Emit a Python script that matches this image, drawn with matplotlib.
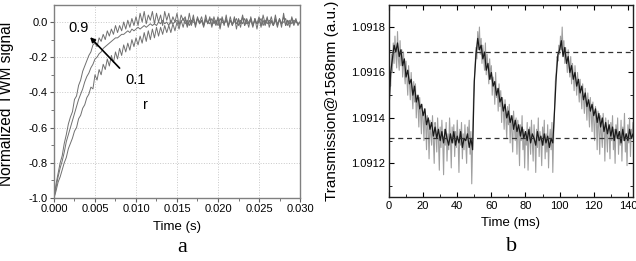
import numpy as np
import matplotlib
matplotlib.use("Agg")
import matplotlib.pyplot as plt
from matplotlib.ticker import MultipleLocator, FormatStrFormatter

plt.rcParams['font.family'] = ['Liberation Sans', 'DejaVu Sans']

# ---------------- Panel a data (time step 0.00025 s, values in hundredths) ----------------
a_time_step = 0.00025
a_r09 = [-100, -92, -86, -80, -76, -69, -64, -58, -54, -51, -44, -42, -36, -33, -28, -25,
         -22, -19, -17, -13, -12, -14, -9, -11, -7, -10, -5, -8, -4, -7, -2, -6,
         -2, -5, 0, -4, 1, -3, 2, -2, 3, -2, 5, 0, 6, -1, 4, 1,
         6, -1, 5, 0, 4, -2, 6, 1, 5, -1, 3, 0, 5, -2, 4, 1,
         3, -2, 5, -1, 4, -3, 2, 0, 3, -2, 4, -1, 2, -3, 3, -1,
         3, -4, 2, -2, 4, -3, 1, -2, 3, -4, 2, -1, 4, -2, 1, -3,
         3, -2, 2, -4, 2, -3, 4, -1, 3, -3, 1, -2, 4, -2, 2, -3,
         5, -2, 1, -3, 3, -1, 2, -2, 0]
a_mid = [-100, -94, -88, -83, -79, -74, -68, -64, -60, -56, -52, -48, -44, -41, -38, -34,
         -31, -29, -26, -24, -21, -20, -18, -17, -15, -14, -13, -12, -11, -10, -9, -9,
         -8, -7, -7, -6, -5, -6, -4, -5, -4, -3, -4, -3, -2, -3, -2, -1,
         -2, -1, -2, 0, -1, 1, -1, 0, -2, 1, -1, 0, 1, -1, 0, 2,
         -1, 1, -2, 1, 0, -1, 2, -1, 1, -2, 1, 0, -1, 2, -1, 1,
         -2, 2, 0, -1, 2, -2, 1, -1, 0, 2, -2, 1, -1, 2, -1, 0,
         2, -2, 1, -1, 0, 2, -2, 1, -1, 1, 0, -2, 2, -1, 1, -1,
         0, 2, -2, 1, -1, 1, 0, -1, 0]
a_r01 = [-100, -96, -91, -88, -84, -80, -77, -72, -69, -66, -62, -60, -55, -53, -49, -47,
         -43, -41, -37, -38, -30, -33, -27, -30, -24, -27, -21, -25, -19, -23, -17, -21,
         -15, -19, -13, -17, -12, -16, -10, -14, -9, -13, -8, -12, -6, -11, -5, -10,
         -4, -9, -3, -8, -3, -7, -2, -6, -2, -6, -1, -5, 0, -4, 1, -3,
         2, -3, 1, -2, 2, -2, 3, -1, 1, -3, 2, -1, 3, -2, 1, -2,
         2, -3, 3, -1, 1, -2, 3, -2, 2, -1, 1, -3, 3, -2, 2, -1,
         1, -3, 2, -1, 3, -2, 1, -2, 2, -1, 3, -2, 1, -3, 2, -1,
         3, -2, 1, -1, 2, -2, 1, -1, 0]
a_xticks = [0.000, 0.005, 0.010, 0.015, 0.020, 0.025, 0.030]
a_yticks = [-1.0, -0.8, -0.6, -0.4, -0.2, 0.0]

# ---------------- Panel b data (offsets above 1.0910 in units of 1e-5) ----------------
b_base = 1.0910
b_unit = 1e-5
b_gray_step = 0.5   # ms
b_gray = [40, 55, 54, 68, 60, 73, 64, 76, 68, 62,
          78, 66, 61, 74, 63, 70, 58, 69, 60, 55,
          65, 57, 50, 63, 55, 48, 60, 51, 44, 56,
          47, 55, 40, 50, 45, 36, 49, 42, 33, 46,
          40, 30, 44, 38, 26, 41, 35, 22, 39, 33,
          28, 41, 31, 20, 38, 34, 25, 40, 30, 17,
          36, 27, 39, 30, 15, 35, 28, 38, 21, 33,
          26, 40, 31, 18, 36, 29, 37, 23, 34, 27,
          39, 30, 16, 35, 28, 38, 22, 33, 26, 37,
          29, 20, 36, 31, 39, 24, 34, 11, 28, 48,
          57, 64, 71, 66, 78, 70, 80, 68, 75, 64,
          72, 66, 61, 73, 59, 68, 62, 55, 66, 57,
          63, 50, 58, 55, 46, 60, 49, 53, 43, 55,
          45, 52, 38, 49, 44, 35, 48, 40, 31, 45,
          37, 46, 29, 41, 34, 25, 43, 36, 30, 40,
          24, 39, 33, 19, 37, 30, 41, 26, 35, 18,
          34, 28, 38, 17, 32, 36, 24, 39, 29, 21,
          37, 31, 16, 35, 27, 40, 23, 34, 30, 19,
          36, 28, 39, 22, 33, 25, 37, 18, 31, 35,
          26, 38, 16, 32, 44, 56, 60, 67, 65, 72,
          68, 76, 70, 80, 69, 74, 64, 71, 66, 60,
          70, 62, 58, 67, 55, 64, 59, 52, 63, 56,
          50, 60, 53, 47, 57, 50, 44, 55, 48, 42,
          53, 46, 39, 51, 43, 36, 49, 41, 34, 47,
          38, 30, 45, 40, 26, 43, 35, 24, 41, 33,
          27, 42, 36, 21, 40, 32, 25, 39, 34, 22,
          38, 30, 41, 26, 35, 20, 37, 31, 40, 24,
          34, 28, 39, 21, 36, 30, 42, 25, 33, 19,
          37, 29, 40, 23, 35, 31, 38, 26, 41, 28,
          32]
b_black_step = 1.0  # ms
b_black = [44, 60, 66, 72, 69, 73, 67, 70, 63, 66,
           58, 61, 55, 57, 50, 54, 47, 50, 44, 46,
           41, 44, 37, 40, 35, 38, 32, 36, 31, 35,
           30, 34, 29, 35, 31, 28, 33, 29, 34, 28,
           32, 29, 34, 27, 31, 30, 33, 27, 31, 26,
           56, 68, 75, 70, 72, 66, 69, 61, 64, 57,
           60, 54, 56, 50, 53, 47, 49, 43, 46, 40,
           43, 38, 41, 35, 39, 34, 37, 32, 36, 31,
           34, 30, 35, 29, 33, 31, 28, 34, 30, 32,
           28, 33, 29, 32, 27, 31, 29, 43, 58, 68,
           70, 74, 67, 71, 64, 67, 60, 63, 57, 60,
           54, 57, 51, 54, 48, 51, 45, 48, 43, 46,
           41, 44, 38, 42, 36, 40, 34, 38, 33, 37,
           32, 36, 30, 35, 31, 34, 29, 35, 30, 33,
           30, 35, 31, 33, 29, 32]
b_dashed_levels = [1.09169, 1.091312]
b_xticks = [0, 20, 40, 60, 80, 100, 120, 140]
b_yticks = [1.0912, 1.0914, 1.0916, 1.0918]

fig = plt.figure(figsize=(6.36, 2.61), dpi=100)

# ---------------- Panel a ----------------
axa = fig.add_axes([0.0849, 0.2414, 0.3868, 0.7396])
ta = np.arange(len(a_r09)) * a_time_step
for series in (a_r01, a_mid, a_r09):
    axa.plot(ta, np.array(series) / 100.0, color='#707070', lw=0.7)
axa.set_xlim(0, 0.030)
axa.set_ylim(-1.0, 0.097)
axa.set_xticks(a_xticks)
axa.set_yticks(a_yticks)
axa.xaxis.set_major_formatter(FormatStrFormatter('%.3f'))
axa.yaxis.set_major_formatter(FormatStrFormatter('%.1f'))
axa.xaxis.set_minor_locator(MultipleLocator(0.0025))
axa.yaxis.set_minor_locator(MultipleLocator(0.1))
axa.grid(True, which='major', color='#c8c8c8', linestyle=':', lw=0.7)
for s in axa.spines.values():
    s.set_color('#808080')
    s.set_linewidth(1.0)
axa.tick_params(which='both', direction='out', labelsize=8, color='#606060', pad=1.5)
axa.tick_params(which='major', length=3)
axa.tick_params(which='minor', length=2)
axa.set_xlabel('Time (s)', fontsize=9.5, labelpad=5)
axa.set_ylabel('Normalized TWM signal', fontsize=11.2, va='center')
axa.yaxis.set_label_coords(-0.195, 0.49)
axa.annotate('', xy=(0.0044, -0.086), xytext=(0.0080, -0.262),
             arrowprops=dict(arrowstyle='-|>', color='black', lw=1.2,
                             mutation_scale=7, shrinkA=0, shrinkB=0))
axa.text(0.0030, -0.035, '0.9', fontsize=10.5, ha='center', va='center')
axa.text(0.0099, -0.33, '0.1', fontsize=10.5, ha='center', va='center')
axa.text(0.0112, -0.47, 'r', fontsize=10.5, ha='center', va='center')

# ---------------- Panel b ----------------
axb = fig.add_axes([0.6116, 0.2452, 0.3837, 0.7356])
tg = np.arange(len(b_gray)) * b_gray_step
tb = np.arange(len(b_black)) * b_black_step
axb.plot(tg, b_base + np.array(b_gray) * b_unit, color='#a0a0a0', lw=0.8)
axb.plot(tb, b_base + np.array(b_black) * b_unit, color='#1a1a1a', lw=0.9)
for lvl in b_dashed_levels:
    axb.axhline(lvl, color='#333333', lw=0.9, linestyle=(0, (4, 3)))
axb.set_xlim(0, 143)
axb.set_ylim(1.091052, 1.091897)
axb.set_xticks(b_xticks)
axb.set_yticks(b_yticks)
axb.yaxis.set_major_formatter(FormatStrFormatter('%.4f'))
axb.xaxis.set_minor_locator(MultipleLocator(10))
axb.yaxis.set_minor_locator(MultipleLocator(0.0001))
for s in axb.spines.values():
    s.set_color('#202020')
    s.set_linewidth(1.0)
axb.tick_params(which='both', direction='in', top=True, right=True, labelsize=8, pad=3)
axb.tick_params(which='major', length=3.5)
axb.tick_params(which='minor', length=2)
axb.set_xlabel('Time (ms)', fontsize=9.5, labelpad=4)
axb.set_ylabel('Transmission@1568nm (a.u.)', fontsize=11, va='center')
axb.yaxis.set_label_coords(-0.234, 0.5)

# panel letters
fig.text(0.286, 0.05, 'a', family=['Liberation Serif', 'DejaVu Serif'], fontsize=16, ha='center', va='center')
fig.text(0.805, 0.055, 'b', family=['Liberation Serif', 'DejaVu Serif'], fontsize=16, ha='center', va='center')

fig.savefig('out.png', dpi=100)
